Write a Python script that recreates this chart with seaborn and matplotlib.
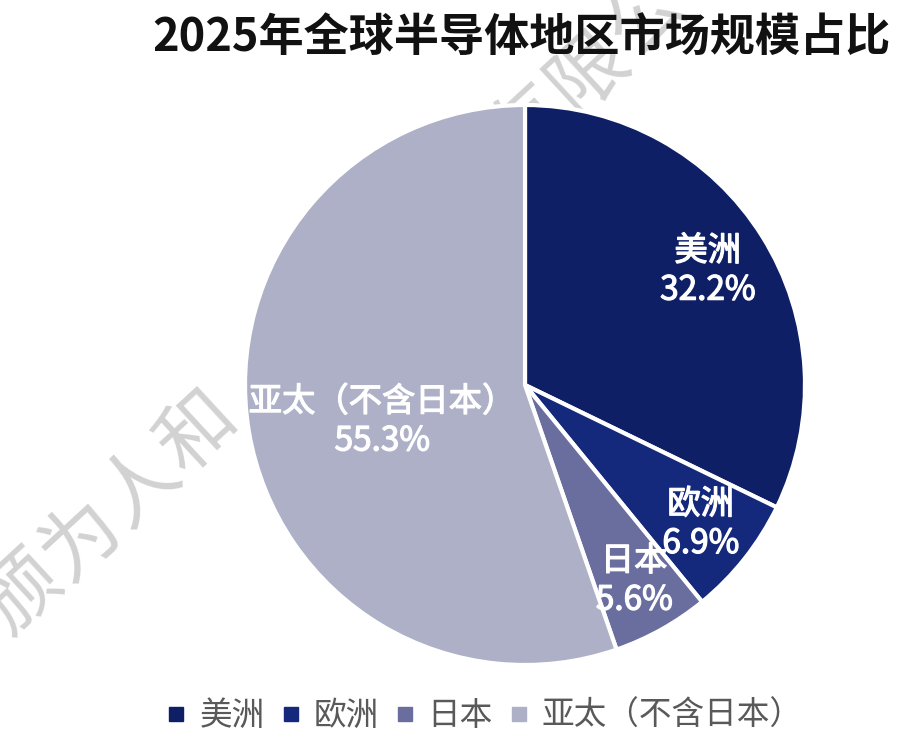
import numpy as np
import matplotlib
matplotlib.use("Agg")
import matplotlib.pyplot as plt
import matplotlib.patheffects as pe
import seaborn as sns
from matplotlib.lines import Line2D

# ---- data ----
regions = ["美洲", "欧洲", "日本", "亚太（不含日本）"]
shares = [32.2, 6.9, 5.6, 55.3]
title = "2025年全球半导体地区市场规模占比"
watermark_chars = ["颁", "为", "人", "和", "有", "限", "公"]

sns.set_theme(style="white")
plt.rcParams['font.family'] = ['Noto Sans CJK SC', 'DejaVu Sans']

colors = sns.color_palette(["#0f1f66", "#14287c", "#6a6e9e", "#adb0c6"])

W, H = 923, 756
fig = plt.figure(figsize=(W / 100, H / 100), dpi=100)
fig.patch.set_facecolor("white")

# watermark (visible fragments), behind the pie
wm_pos = [(22, 594), (81, 540), (140, 486), (199, 432),
          (529, 126), (588, 72), (647, 18)]
for ch, (px, py) in zip(watermark_chars, wm_pos):
    fig.text(px / W, 1 - py / H, ch, rotation=42.7, rotation_mode="anchor",
             fontsize=56, color="#d2d2d2", ha="center", va="center",
             zorder=-1)

# pie axes: centre (525,385), radius 280 px
cx, cy, r = 525, 385, 280
ax = fig.add_axes([(cx - r) / W, (H - cy - r) / H, 2 * r / W, 2 * r / H])
ax.patch.set_visible(False)

wedges, _ = ax.pie(shares, colors=colors, startangle=90, counterclock=False,
                   wedgeprops=dict(edgecolor="white", linewidth=3))
ax.set_xlim(-1, 1)
ax.set_ylim(-1, 1)
ax.set_aspect("equal")
ax.axis("off")

dists = [0.77, 0.80, 0.80, None]
for i, (w, name, val) in enumerate(zip(wedges, regions, shares)):
    ang = np.deg2rad((w.theta1 + w.theta2) / 2)
    if dists[i] is not None:
        x, y = dists[i] * np.cos(ang), dists[i] * np.sin(ang)
    else:
        x, y = -0.51, -0.13
    ax.text(x, y, f"{name}\n{val:.1f}%", ha="center", va="center",
            color="white", fontsize=24, linespacing=1.15,
            path_effects=[pe.withStroke(linewidth=0.9, foreground="white")])

fig.text(521 / W, 1 - 38 / H, title, ha="center", va="center",
         fontsize=32.5, fontweight="bold", color="#111111")

handles = [Line2D([0], [0], marker="s", linestyle="none", markersize=10,
                  markerfacecolor=c, markeredgecolor=c) for c in colors]
leg = fig.legend(handles, regions, loc="center", ncol=4,
                 bbox_to_anchor=(484 / W, 1 - 716 / H), frameon=False,
                 fontsize=23.5, handlelength=0.7, handletextpad=0.35,
                 columnspacing=0.45, labelcolor="#595959")

fig.savefig("out.png", dpi=100, facecolor="white")
